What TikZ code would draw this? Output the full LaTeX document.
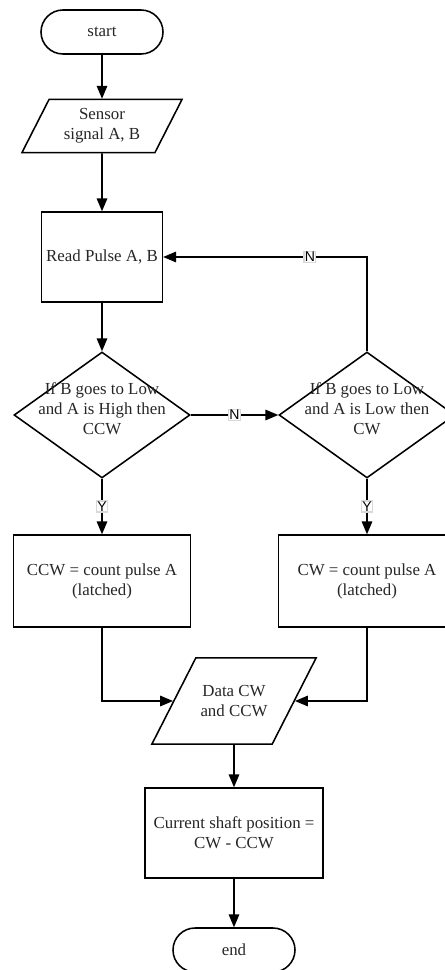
\documentclass[tikz,border=0pt]{standalone}
\usepackage{fontspec}
\setmainfont{Liberation Serif}
\newfontfamily\labelfont{Liberation Sans}
\usetikzlibrary{shapes.geometric, arrows}
\newcommand{\dectext}[1]{\smash{\makebox[0pt]{\begin{tabular}{@{}c@{}}#1\end{tabular}}}}
\tikzstyle{base} = [font=\fontsize{12pt}{14.2pt}\selectfont, text=black!85, line width=1.1pt]
\tikzstyle{startstop} = [base, rectangle, rounded corners=0.55cm, minimum width=3.05cm, minimum height=1.1cm, draw=black]
\tikzstyle{io} = [base, trapezium, trapezium left angle=63, trapezium right angle=117, trapezium stretches body, align=center, draw=black]
\tikzstyle{process} = [base, rectangle, minimum width=3cm, minimum height=2.25cm, align=center, draw=black]
\tikzstyle{decision} = [base, diamond, minimum width=4.4cm, minimum height=3.15cm, inner sep=0pt, draw=black]
\tikzstyle{arrow} = [line width=1.1pt,->,>=triangle 45]
\tikzstyle{answer} = [font=\labelfont\fontsize{10pt}{10pt}\selectfont, fill=white, draw=black!15, inner sep=0.5pt]

\begin{document}
\begin{tikzpicture}[node distance=2cm]
	\useasboundingbox (0,0) rectangle (11.125,-24.25);
	\node (start) [startstop] at (2.55,-0.8) {start};
	\node (sensor) [io, below of=start, yshift=-0.35cm, minimum width=4cm, inner ysep=6.5pt] {Sensor\\signal A, B};
	\node (read) [process, below of=sensor, yshift=-1.275cm] {Read Pulse A, B};
	\node (dec1) [decision, below of=read, yshift=-1.95cm] {\dectext{If B goes to Low\\and A is High then\\CCW}};
	\node (dec2) [decision, right of=dec1, xshift=4.625cm] {\dectext{If B goes to Low\\and A is Low then\\CW}};
	\node (ccw) [process, below of=dec1, yshift=-2.15cm, minimum width=4.425cm, minimum height=2.3cm] {CCW = count pulse A\\(latched)};
	\node (cw) [process, below of=dec2, yshift=-2.15cm, minimum width=4.425cm, minimum height=2.3cm] {CW = count pulse A\\(latched)};
	\node (data) [io, below of=ccw, yshift=-1cm, xshift=3.3cm, minimum width=4.1cm, inner ysep=19.5pt] {Data CW\\and CCW};
	\node (cur) [process, below of=data, yshift=-1.3cm, minimum width=4.45cm] {Current shaft position =\\CW - CCW};
	\node (stop) [startstop, below of=cur, yshift=-0.925cm] {end};
	\draw [arrow] (start) -- (sensor);
	\draw [arrow] (sensor) -- (read);
	\draw [arrow] (read) -- (dec1);
	\draw [arrow] (dec1) -- node[answer] {N} (dec2);
	\draw [arrow] (dec2) |- node[answer, pos=0.64] {N} (read);
	\draw [arrow] (dec1) -- node[answer] {Y} (ccw);
	\draw [arrow] (dec2) -- node[answer] {Y} (cw);
	\draw [arrow] (ccw) |- (data);
	\draw [arrow] (cw) |- (data);
	\draw [arrow] (data) -- (cur);
	\draw [arrow] (cur) -- (stop);
\end{tikzpicture}
\end{document}
